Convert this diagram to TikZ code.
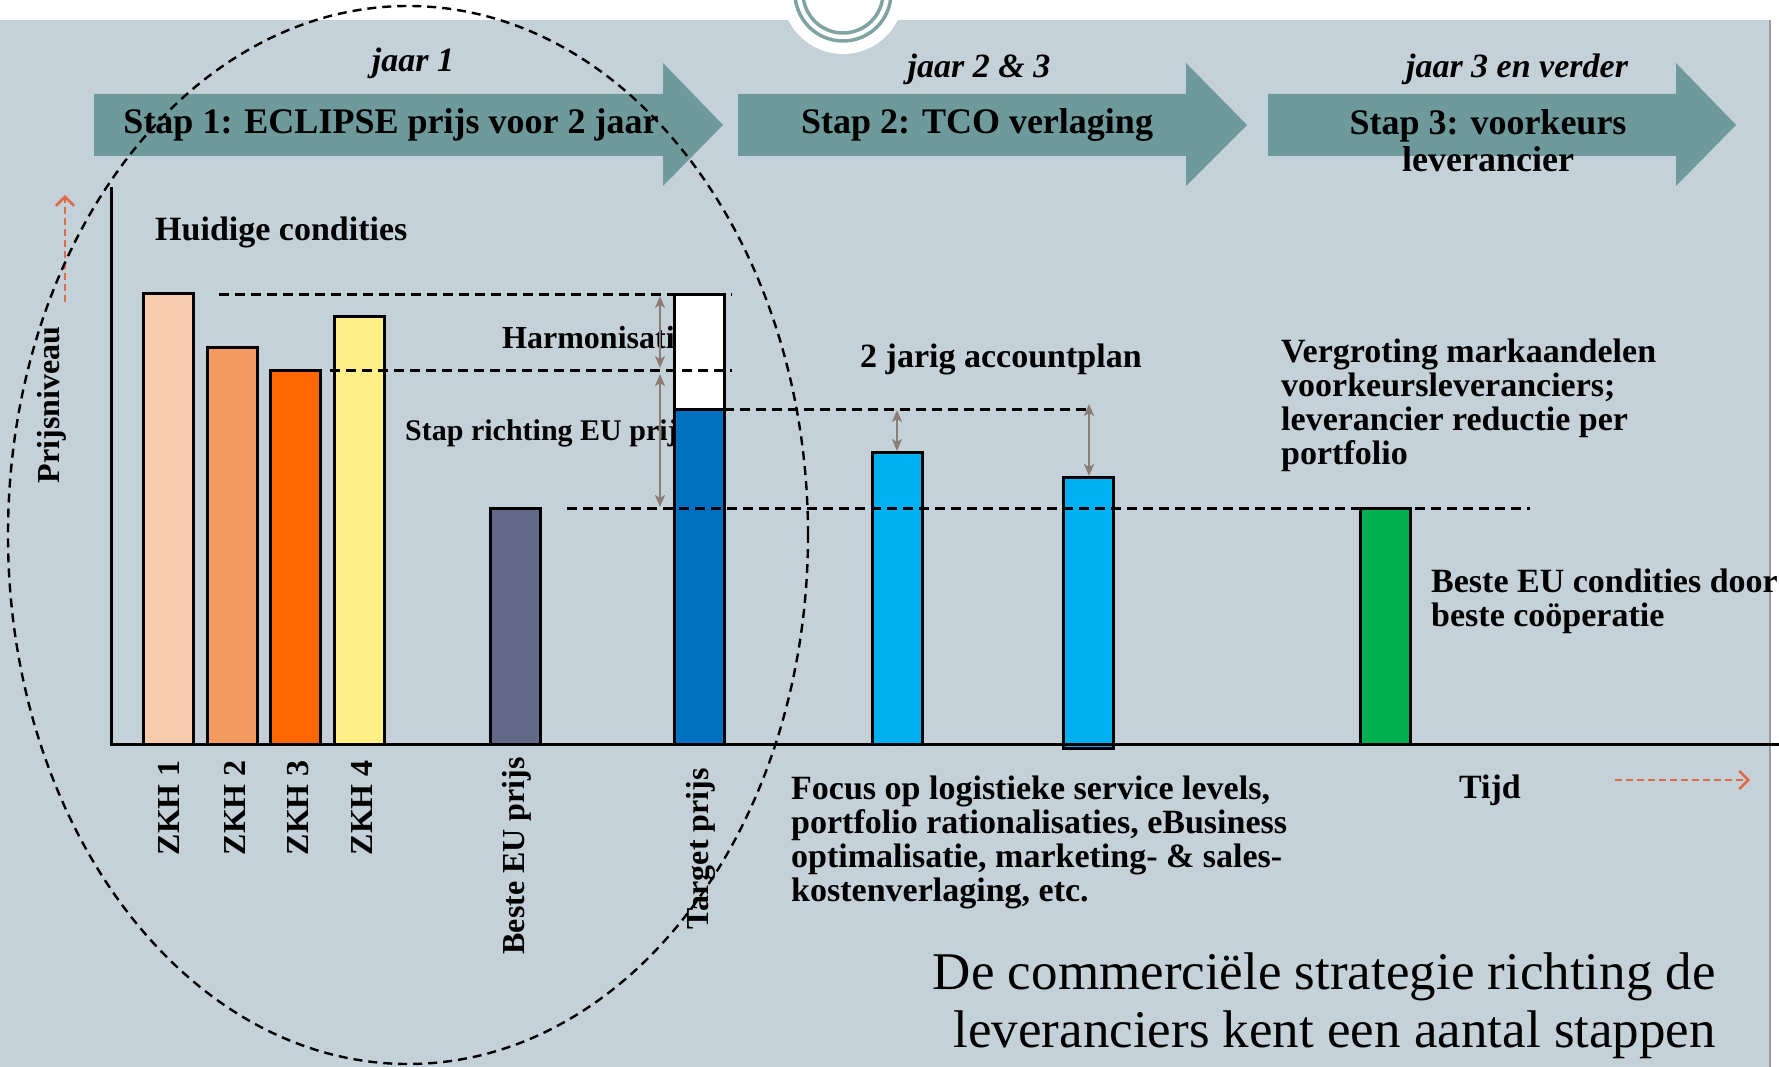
\documentclass[tikz,border=0pt]{standalone}
\usepackage{fontspec}
\setmainfont{Liberation Serif}
\usetikzlibrary{arrows.meta}

\begin{document}
\begin{tikzpicture}[x=1pt,y=-1pt,
    txt/.style={font=\fontsize{34}{34}\selectfont\bfseries,inner sep=0pt},
    year/.style={font=\fontsize{34}{34}\selectfont\bfseries\itshape,inner sep=0pt},
    steptxt/.style={font=\fontsize{36}{37}\selectfont\bfseries,inner sep=0pt},
    barlabel/.style={font=\fontsize{32}{32}\selectfont\bfseries,inner sep=0pt,rotate=90,anchor=east},
    bar/.style={draw=black,line width=3pt},
    cut/.style={black,line width=3pt,dash pattern=on 10pt off 6pt},
    gap/.style={draw=kTaupe,line width=2.2pt,{Stealth[length=12pt,width=10pt,inset=3pt]}-{Stealth[length=12pt,width=10pt,inset=3pt]}},
    hint/.style={draw=kRed,line width=2.5pt,dash pattern=on 7pt off 4pt,-{Straight Barb[length=9pt,width=18pt]}}]
  % colors
  \definecolor{kBack}{HTML}{C5D1D8}
  \definecolor{kTeal}{HTML}{6E9A9B}
  \definecolor{kRing}{HTML}{7FA3A3}
  \definecolor{kTaupe}{HTML}{8C7D74}
  \definecolor{kRed}{HTML}{E0694A}
  \definecolor{kPeach}{HTML}{F8CBAD}
  \definecolor{kApricot}{HTML}{F29A5F}
  \definecolor{kOrange}{HTML}{FF6600}
  \definecolor{kYellow}{HTML}{FFEF86}
  \definecolor{kSlate}{HTML}{636A87}
  \definecolor{kBlue}{HTML}{0070C0}
  \definecolor{kSky}{HTML}{00B0F0}
  \definecolor{kGreen}{HTML}{00B050}
  \useasboundingbox (0,0) rectangle (1779,1067);
  % background
  \fill[white] (0,0) rectangle (1779,1067);
  \fill[kBack] (0,20) rectangle (1770,1067);
  \draw[kBack!75!black,line width=1.5pt] (1770,20) -- (1770,1067);
  \fill[white] (843,-7) circle (61pt);
  \draw[kRing,line width=3.5pt] (843,-7) circle (48pt) (843,-7) circle (40pt);

  % stap arrows
  \foreach \a/\b/\c in {94/663/723,738/1186/1247,1268/1676/1736}
    \fill[kTeal] (\a,94) -- (\b,94) -- (\b,63) -- (\c,125) -- (\b,186) -- (\b,156) -- (\a,156) -- cycle;
  \node[year,anchor=base] (jaar1) at (413,72) {jaar 1};
  \node[year,anchor=base] (jaar2) at (979,78) {jaar 2 \& 3};
  \node[year,anchor=base] (jaar3) at (1517,78) {jaar 3 en verder};
  \node[steptxt,anchor=base] (stap1) at (391,134) {Stap 1: ECLIPSE prijs voor 2 jaar};
  \node[steptxt,anchor=base] (stap2) at (977,134) {Stap 2: TCO verlaging};
  \node[steptxt,align=center,anchor=north] (stap3) at (1488,109) {Stap 3: voorkeurs\\leverancier};

  % texts behind the bars
  \node[txt,anchor=base west] (huidig) at (155,241) {Huidige condities};
  \node[txt,font=\fontsize{32}{32}\selectfont\bfseries,anchor=base west] (harmon) at (502,348) {Harmonisatie};
  \node[txt,font=\fontsize{30}{30}\selectfont\bfseries,anchor=base west] (richting) at (405,440) {Stap richting EU prijs};
  \node[txt,anchor=base west] (account) at (860,367) {2 jarig accountplan};
  \node[txt,align=left,anchor=north west] (markt) at (1281,339)
    {Vergroting markaandelen\\voorkeursleveranciers;\\leverancier reductie per\\portfolio};
  \node[txt,align=left,anchor=north west] (beste) at (1431,569)
    {Beste EU condities door\\beste coöperatie};
  \node[txt,align=left,anchor=north west] (focus) at (791,776)
    {Focus op logistieke service levels,\\portfolio rationalisaties, eBusiness\\optimalisatie, marketing- \& sales-\\kostenverlaging, etc.};
  \node[txt,anchor=base] (tijd) at (1490,798) {Tijd};
  \node[font=\fontsize{53}{58}\selectfont,inner sep=0pt,align=right,anchor=north east] (titel) at (1716,953)
    {De commerciële strategie richting de\\leveranciers kent een aantal stappen};

  % bars
  \foreach \x/\h/\c in {143/293/kPeach,207/347/kApricot,270/370/kOrange,334/316/kYellow,
                        490/508/kSlate,872/452/kSky,1360/508/kGreen}
    \draw[bar,fill=\c] (\x,\h) rectangle (\x+50,744);
  \draw[bar,fill=white] (674,294) rectangle (724,409);
  \draw[bar,fill=kBlue] (674,409) rectangle (724,744);
  \draw[bar,fill=kSky] (1063,477) rectangle (1113,748);

  % axes
  \draw[line width=3pt] (111,187) -- (111,744) -- (1779,744);

  % bar labels
  \foreach \x/\t in {169/ZKH 1,235/ZKH 2,298/ZKH 3,362/ZKH 4}
    \node[barlabel] (zkh\x) at (\x,760) {\t};
  \node[barlabel] (eu) at (517,757) {Beste EU prijs};
  \node[barlabel] (target) at (701,768) {Target prijs};
  \node[font=\fontsize{32}{32}\selectfont\bfseries,inner sep=0pt,rotate=90] (prijs) at (52,405) {Prijsniveau};

  % price levels
  \draw[cut] (219,294) -- (732,294);
  \draw[cut] (330,370) -- (732,370);
  \draw[cut] (724,409) -- (1089,409);
  \draw[cut] (567,508) -- (1530,508);

  % differences
  \coordinate (hTop) at (660,296);
  \coordinate (hMid) at (660,368);
  \coordinate (rTop) at (660,374);
  \coordinate (rLow) at (660,507);
  \coordinate (aTop) at (897,410);
  \coordinate (aLow) at (897,451);
  \coordinate (bTop) at (1089,404);
  \coordinate (bLow) at (1089,476);
  \draw[gap] (hTop) -- (hMid);
  \draw[gap] (rTop) -- (rLow);
  \draw[gap] (aTop) -- (aLow);
  \draw[gap] (bTop) -- (bLow);

  % direction hints
  \coordinate (upFrom) at (65,302);
  \coordinate (upTo) at (65,195);
  \coordinate (rightFrom) at (1615,780);
  \coordinate (rightTo) at (1750,780);
  \draw[hint] (upFrom) -- (upTo);
  \draw[hint] (rightFrom) -- (rightTo);

  % jaar 1 scope
  \draw[line width=2.4pt,dash pattern=on 9pt off 6pt] (408,535) ellipse [x radius=400pt,y radius=529pt];
\end{tikzpicture}
\end{document}
